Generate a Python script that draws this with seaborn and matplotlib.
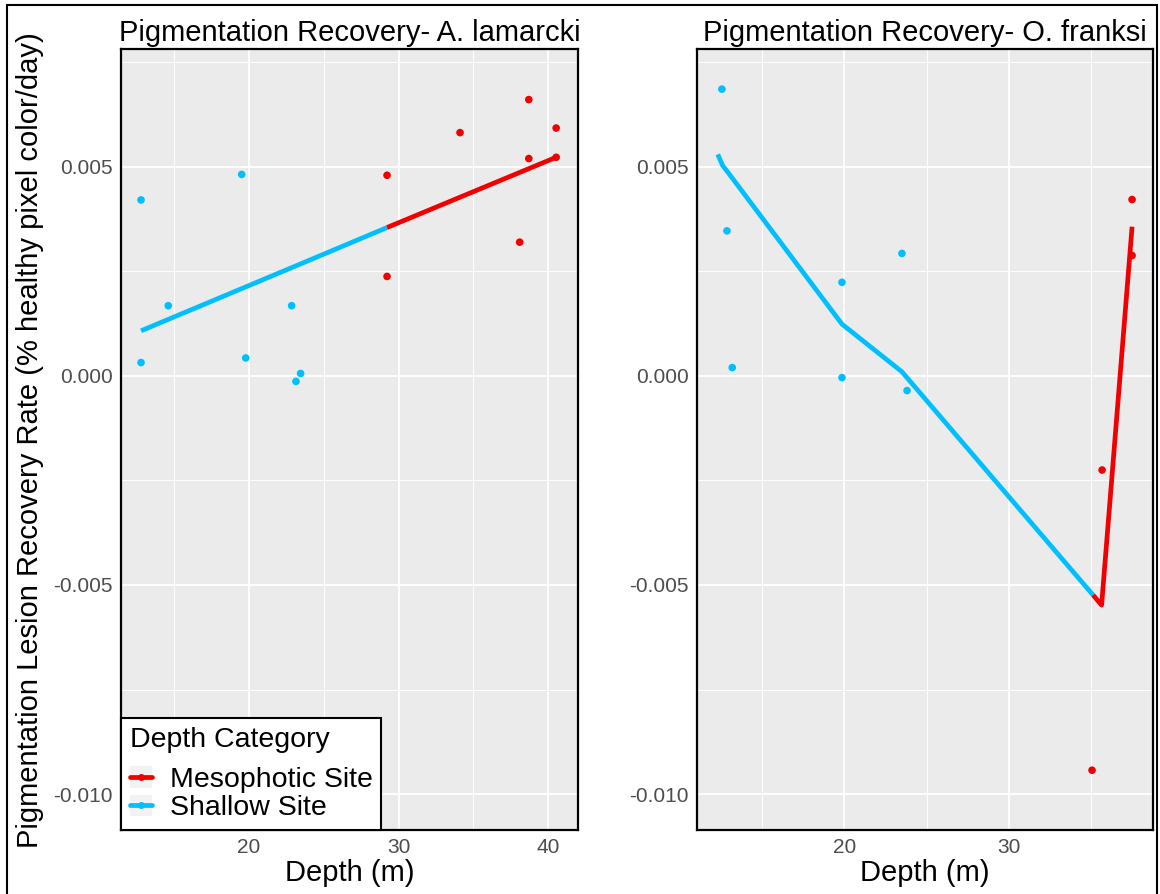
import numpy as np
import pandas as pd
import matplotlib
matplotlib.use("Agg")
import matplotlib.pyplot as plt
import seaborn as sns
from matplotlib.patches import Rectangle
from matplotlib.lines import Line2D
from matplotlib.ticker import FixedLocator, MultipleLocator

# ---------------- data ----------------
categories = ["Mesophotic Site", "Shallow Site"]
colors = {"Mesophotic Site": "#F00000", "Shallow Site": "#00BFFF"}

titles = ["Pigmentation Recovery- A. lamarcki", "Pigmentation Recovery- O. franksi"]

# A. lamarcki observations
alam_shallow_depth = [12.78, 12.78, 14.60, 19.51, 19.78, 22.85, 23.45, 23.14]
alam_shallow_rate = [0.00421, 0.00032, 0.00168, 0.00482, 0.00043, 0.00168, 0.00006, -0.00013]
alam_meso_depth = [29.23, 29.23, 34.11, 38.71, 38.71, 38.10, 40.54, 40.54]
alam_meso_rate = [0.00480, 0.00238, 0.00582, 0.00661, 0.00520, 0.00320, 0.00593, 0.00523]
# A. lamarcki fitted line
alam_fit_depth = [12.78, 23.45, 29.23, 40.54]
alam_fit_rate = [0.00108, 0.00268, 0.00355, 0.00523]
alam_fit_cat = ["Shallow Site", "Shallow Site", "Mesophotic Site", "Mesophotic Site"]

# O. franksi observations
ofr_shallow_depth = [12.57, 12.88, 13.20, 19.86, 19.86, 23.50, 23.81]
ofr_shallow_rate = [0.00686, 0.00347, 0.00020, 0.00224, -0.00004, 0.00293, -0.00035]
ofr_meso_depth = [37.47, 37.47, 35.65, 35.04]
ofr_meso_rate = [0.00422, 0.00288, -0.00225, -0.00943]
# O. franksi fitted line
ofr_fit_depth = [12.32, 12.62, 12.92, 19.86, 23.50, 35.10, 35.62, 37.47]
ofr_fit_rate = [0.00530, 0.00503, 0.00488, 0.00124, 0.00010, -0.00524, -0.00548, 0.00357]
ofr_fit_cat = ["Shallow Site"] * 5 + ["Mesophotic Site"] * 3

y_ticks = [-0.010, -0.005, 0.0, 0.005]
y_tick_labels = ["-0.010", "-0.005", "0.000", "0.005"]
x_ticks_left = [20, 30, 40]
x_ticks_right = [20, 30]

# ---------------- helpers ----------------
def points_frame(sd, sr, md, mr):
    return pd.DataFrame({
        "depth": list(sd) + list(md),
        "rate": list(sr) + list(mr),
        "cat": ["Shallow Site"] * len(sd) + ["Mesophotic Site"] * len(md),
    })

def line_frame(depths, rates, cats):
    rows = []
    seg = 0
    start = 0
    n = len(cats)
    for i in range(1, n + 1):
        if i == n or cats[i] != cats[start]:
            end = min(i, n - 1)
            for j in range(start, end + 1):
                rows.append((depths[j], rates[j], cats[start], seg))
            seg += 1
            start = i
    return pd.DataFrame(rows, columns=["depth", "rate", "cat", "seg"])

# ---------------- figure ----------------
sns.set_theme(style="darkgrid")
plt.rcParams["font.family"] = ["Liberation Sans", "DejaVu Sans"]
plt.rcParams["axes.unicode_minus"] = False
plt.rcParams["text.color"] = "black"

W, H = 1160, 894
fig = plt.figure(figsize=(W / 100, H / 100), dpi=100)
fig.patch.set_facecolor("white")

panels = [
    (121, 578, (11.44, 42.0), x_ticks_left,
     points_frame(alam_shallow_depth, alam_shallow_rate, alam_meso_depth, alam_meso_rate),
     line_frame(alam_fit_depth, alam_fit_rate, alam_fit_cat), titles[0]),
    (697, 1153, (11.06, 38.74), x_ticks_right,
     points_frame(ofr_shallow_depth, ofr_shallow_rate, ofr_meso_depth, ofr_meso_rate),
     line_frame(ofr_fit_depth, ofr_fit_rate, ofr_fit_cat), titles[1]),
]

top_px, bot_px = 49, 830
axes = []
for (x0, x1, xlim, xticks, pts, ln, title) in panels:
    ax = fig.add_axes([x0 / W, 1 - bot_px / H, (x1 - x0) / W, (bot_px - top_px) / H])
    axes.append(ax)
    ax.set_facecolor("#EBEBEB")
    sns.scatterplot(data=pts, x="depth", y="rate", hue="cat", palette=colors,
                    s=30, linewidth=0, legend=False, ax=ax, zorder=3)
    sns.lineplot(data=ln, x="depth", y="rate", hue="cat", units="seg",
                 estimator=None, sort=False, palette=colors, lw=3.4,
                 legend=False, ax=ax, zorder=4, solid_capstyle="butt")
    ax.set_xlim(*xlim)
    ax.set_ylim(-0.01086, 0.00782)
    ax.xaxis.set_major_locator(FixedLocator(xticks))
    ax.xaxis.set_minor_locator(MultipleLocator(5))
    ax.set_yticks(y_ticks)
    ax.set_yticklabels(y_tick_labels)
    ax.yaxis.set_minor_locator(MultipleLocator(0.0025))
    ax.grid(which="major", color="white", lw=1.3)
    ax.grid(which="minor", color="white", lw=0.7)
    ax.set_axisbelow(True)
    for sp in ax.spines.values():
        sp.set_visible(True)
        sp.set_color("black")
        sp.set_linewidth(1.6)
    ax.tick_params(axis="both", which="major", length=3.5, width=1.0, color="#333333",
                   labelsize=15, labelcolor="#4D4D4D", pad=2.5)
    ax.tick_params(axis="both", which="minor", length=0)
    ax.set_xlabel("Depth (m)", fontsize=21, color="black", labelpad=1)
    ax.set_ylabel("")
    ax.set_title(title, fontsize=21, color="black", pad=6)

# y-axis title
fig.text(30 / W, 1 - 440 / H, "Pigmentation Lesion Recovery Rate (% healthy pixel color/day)",
         rotation=90, ha="center", va="center", fontsize=21, color="black")

# legend
handles = []
for c in categories:
    key = Rectangle((0, 0), 1, 1, facecolor="#F2F2F2", edgecolor="none")
    line = Line2D([], [], color=colors[c], lw=3.4, marker="o", markersize=5,
                  markeredgewidth=0)
    handles.append((key, line))
leg = axes[0].legend(handles, categories, title="Depth Category", loc="lower left",
                     bbox_to_anchor=(0, 0), borderaxespad=0, fontsize=20.5,
                     title_fontsize=20.5, frameon=True, fancybox=False,
                     edgecolor="black", facecolor="white", framealpha=1,
                     handlelength=0.8, handleheight=0.8, handletextpad=0.62,
                     labelspacing=0.05, borderpad=0.3, alignment="left",
                     labelcolor="black")
leg.get_title().set_color("black")
leg._legend_box.sep = 10
leg.get_frame().set_linewidth(1.5)
leg.set_zorder(10)

# outer border
fig.patches.append(Rectangle((7 / W, -0.02), (1157 - 7) / W, 1 - 5 / H + 0.02,
                             transform=fig.transFigure, fill=False,
                             edgecolor="black", lw=1.5))

fig.savefig("out.png", dpi=100)
